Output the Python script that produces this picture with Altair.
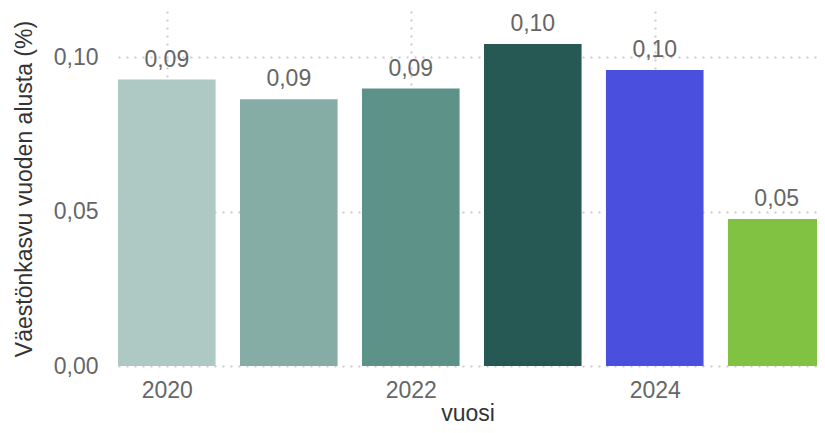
import altair as alt
import pandas as pd

years = [2020, 2021, 2022, 2023, 2024, 2025]
values = [0.0927, 0.0863, 0.0898, 0.1042, 0.0958, 0.0476]
colors = ["#AEC9C3", "#86ADA5", "#5D9289", "#265953", "#4B4FDD", "#81C242"]

df = pd.DataFrame({"vuosi": years, "arvo": values, "vari": colors})

FONT = "Arial"
FS = 23

base = alt.Chart(df).transform_calculate(
    x1="datum.vuosi - 0.4",
    x2="datum.vuosi + 0.4",
    label="replace(format(datum.arvo, '.2f'), '.', ',')",
)

xscale = alt.Scale(domain=[2019.6, 2025.33], nice=False, zero=False)
yscale = alt.Scale(domain=[0, 0.1149], nice=False)

bars = base.mark_bar(clip=False).encode(
    x=alt.X(
        "x1:Q",
        scale=xscale,
        title="vuosi",
        axis=alt.Axis(
            values=[2020, 2022, 2024],
            labelExpr="toString(datum.value)",
        ),
    ),
    x2="x2:Q",
    y=alt.Y(
        "arvo:Q",
        scale=yscale,
        title="Väestönkasvu vuoden alusta (%)",
        axis=alt.Axis(
            values=[0, 0.05, 0.10],
            labelExpr="replace(format(datum.value, '.2f'), '.', ',')",
        ),
    ),
    y2=alt.datum(0),
    color=alt.Color("vari:N", scale=None, legend=None),
)

labels = base.mark_text(
    baseline="alphabetic", dy=-13, fontSize=FS, font=FONT, color="#666666"
).encode(
    x=alt.X("vuosi:Q", scale=xscale),
    y=alt.Y("arvo:Q", scale=yscale),
    text="label:N",
)

chart = (
    alt.layer(bars, labels)
    .properties(
        width=699,
        height=355,
        autosize=alt.AutoSizeParams(type="none"),
        padding={"left": 110, "top": 3, "right": 0, "bottom": 59},
    )
    .configure_view(stroke=None)
    .configure_axis(
        grid=True,
        gridColor="#cccccc",
        gridDash=[2, 6],
        gridWidth=2,
        domain=False,
        ticks=False,
        labelFont=FONT,
        labelFontSize=FS,
        labelColor="#666666",
        titleFont=FONT,
        titleFontSize=FS,
        titleFontWeight="normal",
        titleColor="#333333",
    )
    .configure_axisY(labelPadding=20, titlePadding=17)
    .configure_axisX(labelPadding=13, titlePadding=0)
)

chart.save("out.html", embed_options={"renderer": "svg", "actions": False})
